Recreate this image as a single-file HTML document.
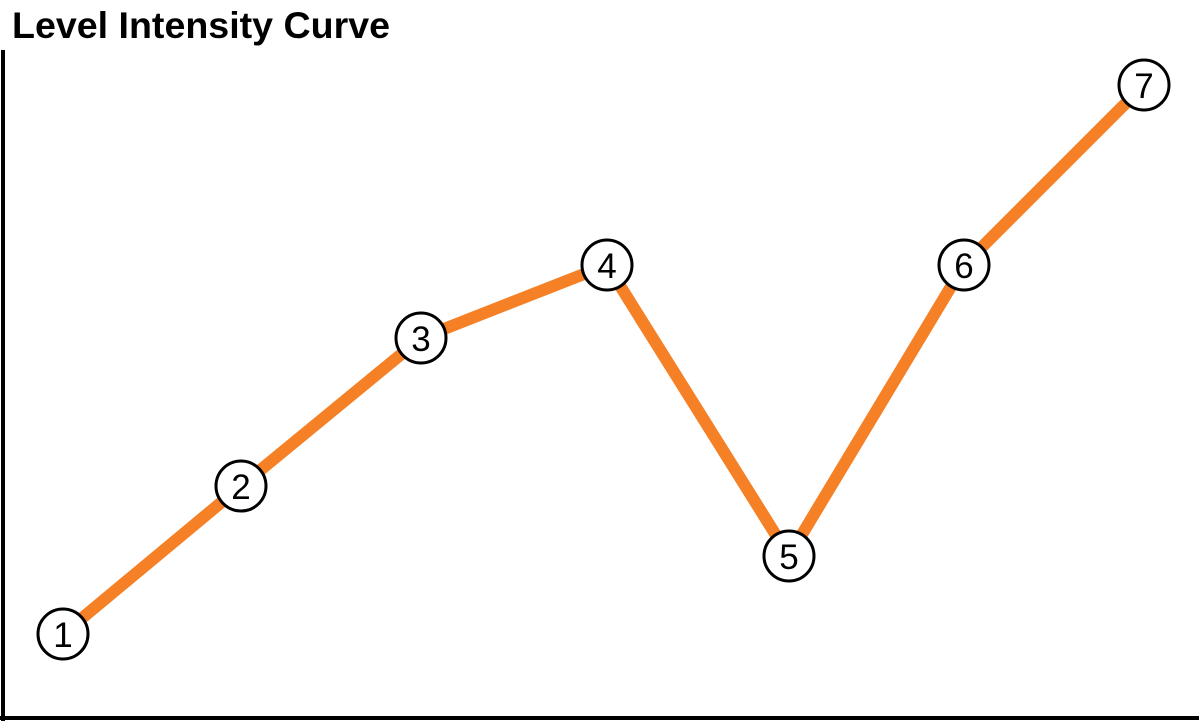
<!DOCTYPE html>
<html><head><meta charset="utf-8"><style>
html,body{margin:0;padding:0;background:#fff;}
svg{display:block;}
</style></head><body>
<svg width="1199" height="721" viewBox="0 0 1199 721" xmlns="http://www.w3.org/2000/svg">
<rect width="1199" height="721" fill="#fff"/>
<text x="12" y="38" font-family="Liberation Sans, sans-serif" font-weight="bold" font-size="37" textLength="378" lengthAdjust="spacingAndGlyphs" fill="#000">Level Intensity Curve</text>
<line x1="3" y1="50" x2="3" y2="721" stroke="#000" stroke-width="4"/>
<line x1="0" y1="718" x2="1199" y2="718" stroke="#000" stroke-width="4"/>
<polyline points="63,634 241,486 421,338 607,265 789,556 964,265 1144,85" fill="none" stroke="#f58025" stroke-width="12" stroke-linejoin="miter"/>
<g fill="#fff" stroke="#000" stroke-width="3">
<circle cx="63" cy="634" r="25"/>
<circle cx="241" cy="486" r="25"/>
<circle cx="421" cy="338" r="25"/>
<circle cx="607" cy="265" r="25"/>
<circle cx="789" cy="556" r="25"/>
<circle cx="964" cy="265" r="25"/>
<circle cx="1144" cy="85" r="25"/>
</g>
<g font-family="Liberation Sans, sans-serif" font-size="35" text-anchor="middle" fill="#000">
<text x="63" y="647">1</text>
<text x="241" y="499">2</text>
<text x="421" y="351">3</text>
<text x="607" y="278">4</text>
<text x="789" y="569">5</text>
<text x="964" y="278">6</text>
<text x="1144" y="98">7</text>
</g>
</svg>
</body></html>
